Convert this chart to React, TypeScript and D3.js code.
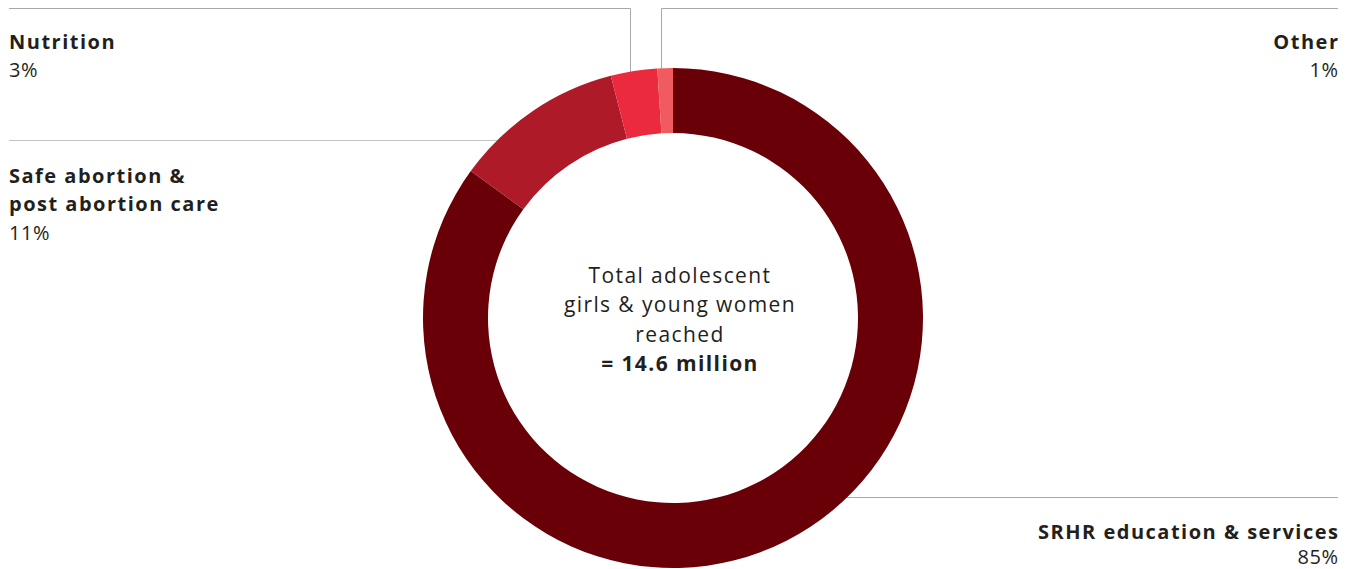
import React from "react";
import * as d3 from "d3";

const categories = ["SRHR education & services", "Safe abortion & post abortion care", "Nutrition", "Other"];
const values = [85, 11, 3, 1];
const colors = ["#6a0007", "#ae1a28", "#ec2a3e", "#ef5b5f"];
const centerLines = ["Total adolescent", "girls & young women", "reached"];
const centerTotal = "= 14.6 million";

const W = 1353, H = 569;
const cx = 673, cy = 318, R = 250, r = 185;
const FONT = "'Open Sans', 'Noto Sans', sans-serif";

export default function App() {
  const pie = d3.pie<number>().sort(null).value((d) => d)(values);
  const arc = d3.arc<d3.PieArcDatum<number>>().innerRadius(r).outerRadius(R);
  const pt = (a: number, rad: number) => [cx + rad * Math.sin(a), cy - rad * Math.cos(a)];
  const nutMid = pt((pie[2].startAngle + pie[2].endAngle) / 2, R);
  const othMid = pt((pie[3].startAngle + pie[3].endAngle) / 2, R);
  const nx = Math.round(nutMid[0]) - 3.5;
  const ox = Math.round(othMid[0]) - 3.5;
  const lineCol = "#a8a8a8";
  const ls = 1.5;
  const labelStyle = { fontFamily: FONT, fontWeight: 700, fontSize: 20, fill: "#231f20", letterSpacing: ls } as const;
  const pctStyle = { fontFamily: FONT, fontWeight: 400, fontSize: 20, fill: "#231f20", letterSpacing: 0.5 } as const;
  const centerStyle = { fontFamily: FONT, fontSize: 21, fill: "#231f20", letterSpacing: 1.4 } as const;
  const rx = 1338 + ls;
  return (
    <svg width={W} height={H} style={{ position: "absolute", left: 0, top: 0 }}>
      <rect width={W} height={H} fill="#fff" />
      {/* leader lines */}
      <polyline points={`9,8.5 ${nx},8.5 ${nx},${nutMid[1] + 10}`} fill="none" stroke={lineCol} strokeWidth={1} />
      <polyline points={`1338,8.5 ${ox},8.5 ${ox},${othMid[1] + 10}`} fill="none" stroke={lineCol} strokeWidth={1} />
      <line x1={9} x2={cx - 140} y1={140.5} y2={140.5} stroke="#c4c4c4" strokeWidth={1} />
      <line x1={cx + 150} x2={1338} y1={497.5} y2={497.5} stroke={lineCol} strokeWidth={1} />
      {/* ring */}
      <g transform={`translate(${cx},${cy})`}>
        {pie.map((d, i) => (
          <path key={categories[i]} d={arc(d) || ""} fill={colors[i]} stroke="none" />
        ))}
      </g>
      {/* labels */}
      <text x={9} y={49} style={labelStyle}>Nutrition</text>
      <text x={9} y={77} style={pctStyle}>{values[2]}%</text>
      <text x={rx} y={49} textAnchor="end" style={labelStyle}>Other</text>
      <text x={1338.5} y={77} textAnchor="end" style={pctStyle}>{values[3]}%</text>
      <text x={9} y={183} style={labelStyle}>Safe abortion &amp;</text>
      <text x={9} y={211} style={labelStyle}>post abortion care</text>
      <text x={9} y={240} style={pctStyle}>{values[1]}%</text>
      <text x={rx} y={539} textAnchor="end" style={labelStyle}>SRHR education &amp; services</text>
      <text x={1338.5} y={564} textAnchor="end" style={pctStyle}>{values[0]}%</text>
      {/* center */}
      {centerLines.map((t, i) => (
        <text key={t} x={cx + 7} y={283 + i * 29.3} textAnchor="middle" style={centerStyle}>{t}</text>
      ))}
      <text x={cx + 7} y={371} textAnchor="middle" style={{ ...centerStyle, fontWeight: 700 }}>{centerTotal}</text>
    </svg>
  );
}
